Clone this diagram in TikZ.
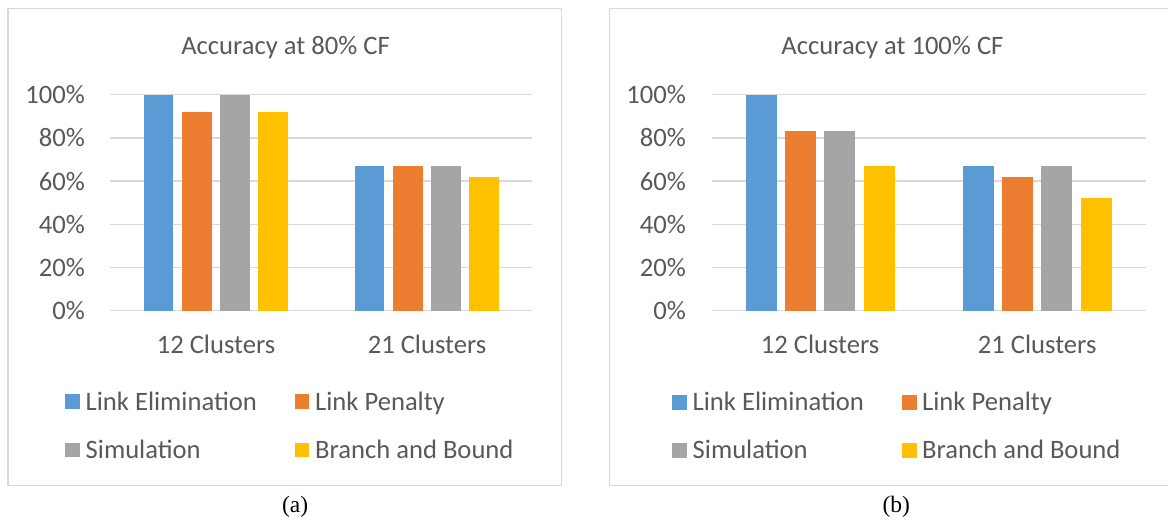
\documentclass[tikz,border=0pt]{standalone}
\usepackage{fontspec}
\setmainfont{Carlito}
\newfontfamily\capfont{Liberation Serif}
\definecolor{txt}{HTML}{595959}
\definecolor{gridc}{HTML}{D9D9D9}
\definecolor{cblue}{HTML}{5B9BD5}
\definecolor{corange}{HTML}{ED7D31}
\definecolor{cgray}{HTML}{A5A5A5}
\definecolor{cyellow}{HTML}{FFC000}
\begin{document}
\begin{tikzpicture}[x=1pt,y=-1pt,
  lbl/.style={text=txt,font=\fontsize{26.6}{30}\selectfont,inner sep=0pt},
  gridline/.style={draw=gridc,line width=1.5pt},
  frame/.style={draw=gridc,line width=1.5pt},
  capt/.style={font=\capfont\fontsize{23.5}{26}\selectfont,inner sep=0pt,text=black}]
\useasboundingbox (0,0) rectangle (1168,521);
\fill[white] (0,0) rectangle (1168,521);

% ---------------- Panel (a) ----------------
\draw[frame] (8,8.5) rectangle (561.5,485.5);
\node[lbl,anchor=base] (ta) at (285.5,54.5) {Accuracy at 80\% CF};
\foreach \v in {0,20,40,60,80,100} {
  \draw[gridline] (110,{310.7-2.16*\v}) -- (532,{310.7-2.16*\v});
  \node[lbl,anchor=base east] (ya\v) at (85,{319.7-2.16*\v}) {\v\%};
}
\foreach \x/\v/\c in {143.5/100/cblue,181.8/92/corange,220.1/100/cgray,258.4/92/cyellow,
                      354.5/67/cblue,392.8/67/corange,431.1/67/cgray,469.4/62/cyellow} {
  \fill[\c] (\x,310.7) rectangle ({\x+29.7},{310.7-2.16*\v});
}
\node[lbl,anchor=base] (ca1) at (216,353.3) {12 Clusters};
\node[lbl,anchor=base] (ca2) at (427,353.3) {21 Clusters};
\fill[cblue]   (65.3,394.5) rectangle ++(14.5,14.5);
\fill[corange] (294.8,394.5) rectangle ++(14.5,14.5);
\fill[cgray]   (65.3,442.7) rectangle ++(14.5,14.5);
\fill[cyellow] (294.8,442.7) rectangle ++(14.5,14.5);
\node[lbl,anchor=base west] (la1) at (85.5,410) {Link Elimination};
\node[lbl,anchor=base west] (la2) at (315,410) {Link Penalty};
\node[lbl,anchor=base west] (la3) at (85.5,458.2) {Simulation};
\node[lbl,anchor=base west] (la4) at (315,458.2) {Branch and Bound};
\node[capt,anchor=base] (capa) at (295.2,512.5) {(a)};

% ---------------- Panel (b) ----------------
\draw[frame] (1170,8.5) -- (609.5,8.5) -- (609.5,485.5) -- (1170,485.5);
\node[lbl,anchor=base] (tb) at (892.4,54.5) {Accuracy at 100\% CF};
\foreach \v in {0,20,40,60,80,100} {
  \draw[gridline] (711.6,{310.7-2.16*\v}) -- (1145.5,{310.7-2.16*\v});
  \node[lbl,anchor=base east] (yb\v) at (686,{319.7-2.16*\v}) {\v\%};
}
\foreach \x/\v/\c in {745.6/100/cblue,784.9/83/corange,824.2/83/cgray,863.5/67/cyellow,
                      962.6/67/cblue,1001.9/62/corange,1041.2/67/cgray,1080.5/52/cyellow} {
  \fill[\c] (\x,310.7) rectangle ({\x+31},{310.7-2.16*\v});
}
\node[lbl,anchor=base] (cb1) at (820.1,353.3) {12 Clusters};
\node[lbl,anchor=base] (cb2) at (1037.2,353.3) {21 Clusters};
\fill[cblue]   (672,395) rectangle ++(15,15);
\fill[corange] (901.5,395) rectangle ++(15,15);
\fill[cgray]   (672,443.2) rectangle ++(15,15);
\fill[cyellow] (901.5,443.2) rectangle ++(15,15);
\node[lbl,anchor=base west] (lb1) at (692.5,410) {Link Elimination};
\node[lbl,anchor=base west] (lb2) at (922,410) {Link Penalty};
\node[lbl,anchor=base west] (lb3) at (692.5,458.2) {Simulation};
\node[lbl,anchor=base west] (lb4) at (922,458.2) {Branch and Bound};
\node[capt,anchor=base] (capb) at (896.3,512.5) {(b)};
\end{tikzpicture}
\end{document}
